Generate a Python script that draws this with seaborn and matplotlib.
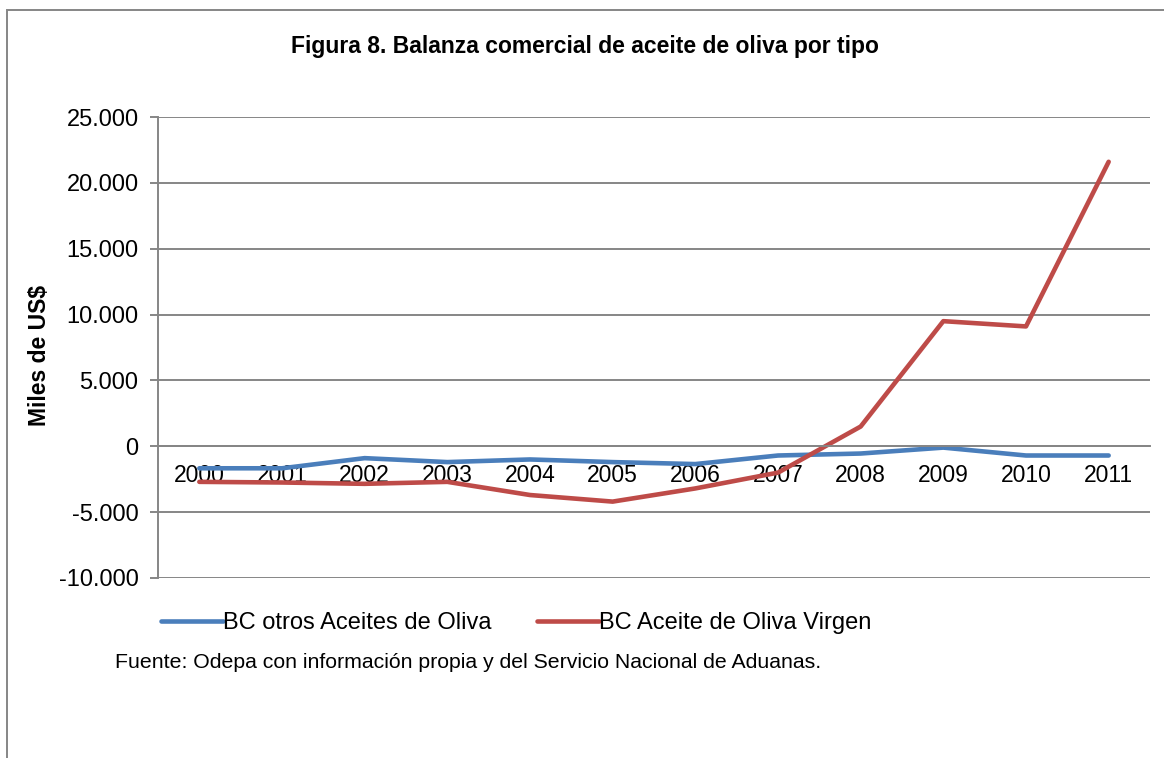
import pandas as pd
import seaborn as sns
import matplotlib.pyplot as plt
from matplotlib.patches import Rectangle
from matplotlib.ticker import FuncFormatter

years = ["2000", "2001", "2002", "2003", "2004", "2005",
         "2006", "2007", "2008", "2009", "2010", "2011"]
otros = [-1670, -1670, -900, -1200, -1000, -1200,
         -1350, -700, -550, -100, -700, -700]
virgen = [-2700, -2750, -2850, -2700, -3700, -4200,
          -3200, -2000, 1500, 9500, 9100, 21600]
series_names = ["BC otros Aceites de Oliva", "BC Aceite de Oliva Virgen"]

df = pd.DataFrame({
    "Año": years * 2,
    "Valor": otros + virgen,
    "Serie": [series_names[0]] * len(years) + [series_names[1]] * len(years),
})

sns.set_style("white")
plt.rcParams["font.family"] = ["Liberation Sans", "DejaVu Sans"]
plt.rcParams["text.color"] = "black"
plt.rcParams["xtick.color"] = "black"
plt.rcParams["ytick.color"] = "black"

fig = plt.figure(figsize=(11.64, 7.58), dpi=100)
ax = fig.add_axes([158 / 1164, 1 - 578 / 758, 992 / 1164, 461 / 758])

sns.lineplot(data=df, x="Año", y="Valor", hue="Serie", sort=False,
             palette=["#4A7EBB", "#BE4B48"], linewidth=3.3, ax=ax,
             solid_capstyle="round")

ax.set_xlim(-0.5, len(years) - 0.5)
ax.set_ylim(-10000, 25000)
ax.set_yticks(range(-10000, 25001, 5000))
ax.yaxis.set_major_formatter(FuncFormatter(lambda v, p: f"{int(v):,}".replace(",", ".")))
ax.grid(axis="y", color="#868686", linewidth=1.4)
ax.set_axisbelow(True)

for s in ["top", "right"]:
    ax.spines[s].set_visible(False)
ax.spines["left"].set_color("#868686")
ax.spines["left"].set_linewidth(1.4)
ax.spines["bottom"].set_position(("data", 0))
ax.spines["bottom"].set_color("#868686")
ax.spines["bottom"].set_linewidth(1.4)

ax.tick_params(axis="y", length=6, width=1.4, color="#868686", labelsize=17, pad=8,
               left=True, labelcolor="black")
ax.tick_params(axis="x", length=0, labelsize=16.5, pad=13, labelcolor="black")
ax.set_xlabel("")
ax.set_ylabel("Miles de US$", fontsize=16.5, fontweight="bold", color="black")
ax.yaxis.set_label_coords(-107 / 992, (578 - 355) / 461)

ax.legend(loc="center left", bbox_to_anchor=(140 / 1164, 1 - 623 / 758),
          bbox_transform=fig.transFigure, ncol=2, frameon=False, fontsize=17,
          handlelength=2.6, handletextpad=0.0, columnspacing=1.95)

fig.text(585 / 1164, 1 - 46 / 758, "Figura 8. Balanza comercial de aceite de oliva por tipo",
         ha="center", va="center", fontsize=16.5, fontweight="bold")
fig.text(115 / 1164, 1 - 662 / 758,
         "Fuente: Odepa con información propia y del Servicio Nacional de Aduanas.",
         ha="left", va="center", fontsize=15.3)

fig.patches.append(Rectangle((7 / 1164, -0.05), 1.1, 1.05 - 10 / 758,
                             transform=fig.transFigure, fill=False,
                             edgecolor="#868686", linewidth=1.4))

fig.savefig("out.png", dpi=100)
